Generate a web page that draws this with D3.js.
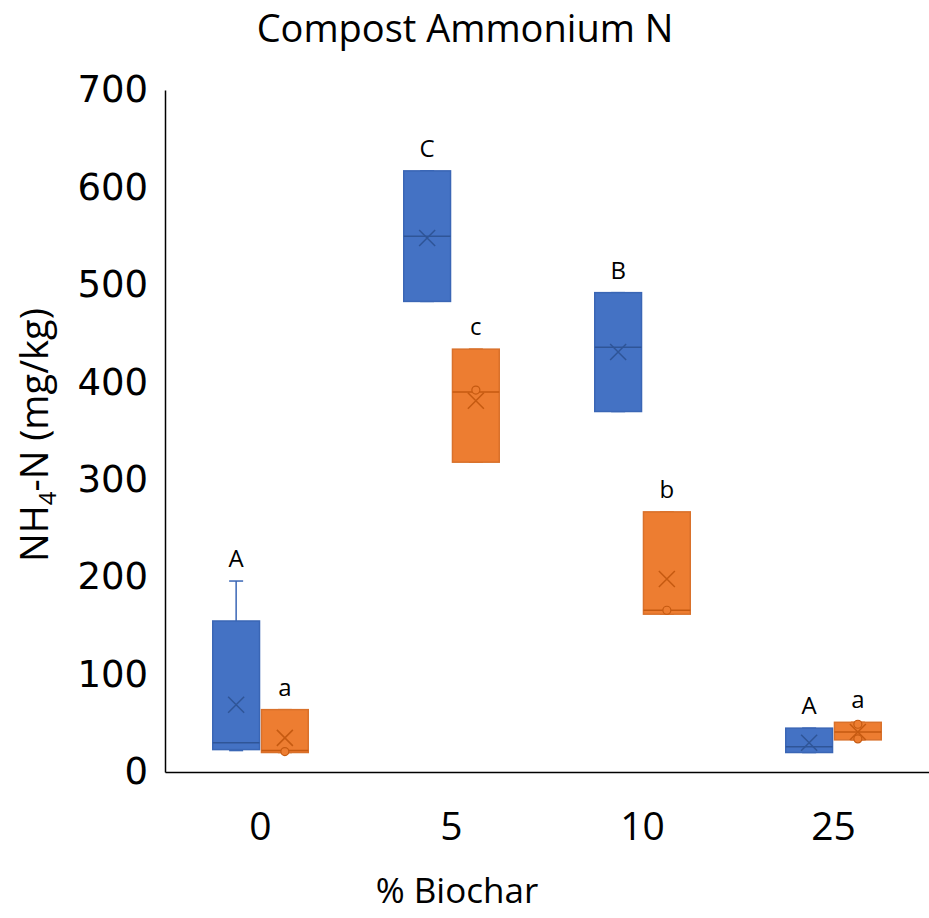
<!DOCTYPE html>
<html>
<head>
<meta charset="utf-8">
<script src="https://cdn.jsdelivr.net/npm/d3@7"></script>
<style>
  body { margin: 0; background: #fff; }
</style>
</head>
<body>
<div id="chart"></div>
<script>
// categories (% biochar) and the two series
var categories = ['0', '5', '10', '25']
var seriesNames = ['Series 1', 'Series 2']

// series 1 (blue) box stats
var s1Min = [22, 483, 370, 20]
var s1Q1 = [23, 483, 370, 20]
var s1Median = [30, 550, 436, 26]
var s1Q3 = [155, 617, 492, 45]
var s1Max = [196, 617, 492, 45]
var s1Mean = [69, 548, 431, 30]
var s1Points = [[], [], [], []]
var s1Letters = ['A', 'C', 'B', 'A']

// series 2 (orange) box stats
var s2Min = [20, 318, 162, 33]
var s2Q1 = [20, 318, 162, 33]
var s2Median = [22, 390, 166, 41]
var s2Q3 = [64, 434, 267, 51]
var s2Max = [64, 434, 267, 51]
var s2Mean = [35, 381, 198, 41]
var s2Points = [[21], [392], [166], [49, 34]]
var s2Letters = ['a', 'c', 'b', 'a']

var yTicks = [0, 100, 200, 300, 400, 500, 600, 700]

var margin = { top: 90, left: 165, right: 0, bottom: 146 }
var width = 929 - margin.left - margin.right
var height = 918 - margin.top - margin.bottom

var svg = d3
  .select('#chart')
  .append('svg')
  .attr('width', 929)
  .attr('height', 918)
  .append('g')
  .attr('transform', `translate(${margin.left},${margin.top})`)

var fills = { 'Series 1': '#4472C4', 'Series 2': '#ED7D31' }
var borders = { 'Series 1': '#3A66B5', 'Series 2': '#D9712B' }
var darks = { 'Series 1': '#2F5597', 'Series 2': '#C55A11' }

// build rows from the arrays
var rows = []
categories.forEach((c, i) => {
  rows.push({ cat: c, series: 'Series 1', min: s1Min[i], q1: s1Q1[i], median: s1Median[i], q3: s1Q3[i], max: s1Max[i], mean: s1Mean[i], points: s1Points[i], letter: s1Letters[i] })
  rows.push({ cat: c, series: 'Series 2', min: s2Min[i], q1: s2Q1[i], median: s2Median[i], q3: s2Q3[i], max: s2Max[i], mean: s2Mean[i], points: s2Points[i], letter: s2Letters[i] })
})

var xScale = d3.scaleBand()
  .domain(categories)
  .range([0, width])
  .paddingInner(0.5)
  .paddingOuter(0.25)

var xInner = d3.scaleBand()
  .domain(seriesNames)
  .range([0, xScale.bandwidth()])
  .paddingInner(0.04)

var yScale = d3.scaleLinear().domain([0, 700]).range([height, 0])

var boxes = svg.selectAll('.box')
  .data(rows)
  .enter()
  .append('g')
  .attr('class', 'box')
  .attr('transform', d => `translate(${xScale(d.cat) + xInner(d.series)},0)`)

var bw = xInner.bandwidth()

boxes.each(function(d) {
  var g = d3.select(this)
  var cx = bw / 2

  // whiskers
  g.append('line')
    .attr('x1', cx).attr('x2', cx)
    .attr('y1', yScale(d.max)).attr('y2', yScale(d.q3))
    .attr('stroke', borders[d.series]).attr('stroke-width', 1.5)
  g.append('line')
    .attr('x1', cx).attr('x2', cx)
    .attr('y1', yScale(d.min)).attr('y2', yScale(d.q1))
    .attr('stroke', borders[d.series]).attr('stroke-width', 1.5)
  ;[d.max, d.min].forEach(v => {
    g.append('line')
      .attr('x1', cx - 7).attr('x2', cx + 7)
      .attr('y1', yScale(v)).attr('y2', yScale(v))
      .attr('stroke', borders[d.series]).attr('stroke-width', 1.5)
  })

  g.append('rect')
    .attr('x', 0)
    .attr('y', yScale(d.q3))
    .attr('width', bw)
    .attr('height', yScale(d.q1) - yScale(d.q3))
    .attr('fill', fills[d.series])
    .attr('stroke', borders[d.series])
    .attr('stroke-width', 1.5)

  // median
  g.append('line')
    .attr('x1', 0).attr('x2', bw)
    .attr('y1', yScale(d.median)).attr('y2', yScale(d.median))
    .attr('stroke', darks[d.series]).attr('stroke-width', 1.5)

  // mean marker
  var my = yScale(d.mean)
  g.append('path')
    .attr('d', `M${cx - 8},${my - 8}L${cx + 8},${my + 8}M${cx - 8},${my + 8}L${cx + 8},${my - 8}`)
    .attr('stroke', darks[d.series]).attr('stroke-width', 1.5)
    .attr('fill', 'none')

  // inner points
  g.selectAll('circle')
    .data(d.points)
    .enter()
    .append('circle')
    .attr('cx', cx)
    .attr('cy', p => yScale(p))
    .attr('r', 4)
    .attr('fill', fills[d.series])
    .attr('stroke', darks[d.series])
    .attr('stroke-width', 1.2)

  // significance letter
  g.append('text')
    .attr('x', cx)
    .attr('y', yScale(d.max) - 14)
    .attr('text-anchor', 'middle')
    .attr('font-family', 'Open Sans, sans-serif')
    .attr('font-size', 24)
    .attr('fill', '#000')
    .text(d.letter)
})

// axes
var yAxis = d3.axisLeft(yScale).tickValues(yTicks).tickSize(0).tickPadding(17)
svg.append('g')
  .attr('class', 'axis y-axis')
  .call(yAxis)
  .call(g => g.select('.domain').attr('stroke', '#000').attr('stroke-width', 1.5))
  .selectAll('text')
  .attr('font-family', 'DejaVu Sans, sans-serif')
  .attr('font-size', 37)
  .attr('fill', '#000')

var xAxis = d3.axisBottom(xScale).tickSize(0).tickPadding(40)
svg.append('g')
  .attr('class', 'axis x-axis')
  .attr('transform', `translate(0,${height})`)
  .call(xAxis)
  .call(g => g.select('.domain').attr('stroke', '#000').attr('stroke-width', 1.5))
  .selectAll('text')
  .attr('font-family', 'Open Sans, sans-serif')
  .attr('font-size', 39)
  .attr('fill', '#000')

// title
svg.append('text')
  .attr('x', 465 - margin.left)
  .attr('y', 42 - margin.top)
  .attr('text-anchor', 'middle')
  .attr('font-family', 'Open Sans, sans-serif')
  .attr('font-size', 38)
  .text('Compost Ammonium N')

// x axis title
svg.append('text')
  .attr('x', 457 - margin.left)
  .attr('y', 903 - margin.top)
  .attr('text-anchor', 'middle')
  .attr('font-family', 'Open Sans, sans-serif')
  .attr('font-size', 35)
  .text('% Biochar')

// y axis title with subscript
var yLabel = svg.append('text')
  .attr('transform', `translate(${48 - margin.left},${435 - margin.top}) rotate(-90)`)
  .attr('text-anchor', 'middle')
  .attr('font-family', 'Open Sans, sans-serif')
  .attr('font-size', 38)
yLabel.append('tspan').text('NH')
yLabel.append('tspan').attr('font-size', 24).attr('dy', 8).text('4')
yLabel.append('tspan').attr('dy', -8).text('-N (mg/kg)')
</script>
</body>
</html>
